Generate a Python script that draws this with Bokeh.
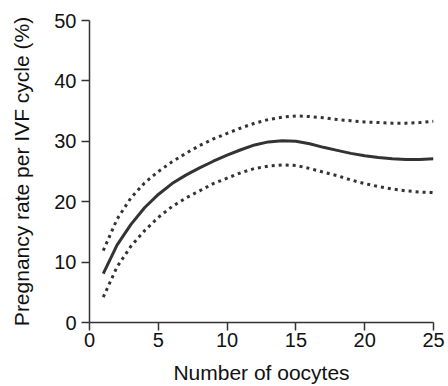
from bokeh.plotting import figure
from bokeh.models import Range1d, FixedTicker
from bokeh.embed import file_html
from bokeh.resources import INLINE

# Data
oocytes = [1, 2, 3, 4, 5, 6, 7, 8, 9, 10, 11, 12, 13, 14, 15, 16, 17, 18, 19, 20, 21, 22, 23, 24, 25]
rate_mean = [8.1, 12.8, 16.2, 19.0, 21.2, 23.0, 24.4, 25.6, 26.7, 27.7, 28.6, 29.4, 29.9, 30.1,
             30.0, 29.6, 29.0, 28.5, 28.0, 27.6, 27.3, 27.1, 27.0, 27.0, 27.1]
rate_upper = [11.9, 17.1, 20.6, 23.1, 25.0, 26.6, 28.0, 29.3, 30.4, 31.3, 32.2, 33.0, 33.6, 34.0,
              34.2, 34.1, 33.9, 33.6, 33.4, 33.2, 33.1, 33.0, 33.0, 33.1, 33.3]
rate_lower = [4.2, 9.2, 12.6, 15.2, 17.4, 19.2, 20.6, 21.8, 23.0, 23.9, 24.8, 25.5, 25.9, 26.1,
              26.0, 25.5, 24.9, 24.3, 23.6, 23.0, 22.5, 22.1, 21.8, 21.6, 21.5]
x_ticks = [0, 5, 10, 15, 20, 25]
y_ticks = [0, 10, 20, 30, 40, 50]

p = figure(width=448, height=386, output_backend="svg", toolbar_location=None,
           x_range=Range1d(0, 25), y_range=Range1d(0, 50),
           min_border_left=89, min_border_right=15, min_border_top=20, min_border_bottom=60)
p.outline_line_color = None
p.xgrid.visible = False
p.ygrid.visible = False
p.background_fill_color = "white"

ink = "#333333"
p.line(oocytes, rate_upper, line_color=ink, line_width=3, line_dash="3 4")
p.line(oocytes, rate_lower, line_color=ink, line_width=3, line_dash="3 4")
p.line(oocytes, rate_mean, line_color=ink, line_width=3)

p.xaxis.ticker = FixedTicker(ticks=x_ticks)
p.yaxis.ticker = FixedTicker(ticks=y_ticks)
p.xaxis.axis_label = "Number of oocytes"
p.yaxis.axis_label = "Pregnancy rate per IVF cycle (%)"

for ax in (p.xaxis, p.yaxis):
    ax.axis_line_color = ink
    ax.axis_line_width = 1.5
    ax.major_tick_line_color = ink
    ax.major_tick_line_width = 1.5
    ax.major_tick_out = 8
    ax.major_tick_in = 0
    ax.minor_tick_line_color = None
    ax.major_label_text_font = "Liberation Sans"
    ax.major_label_text_font_size = "20px"
    ax.major_label_text_color = "#111111"
    ax.axis_label_text_font = "Liberation Sans"
    ax.axis_label_text_font_size = "21px"
    ax.axis_label_text_font_style = "normal"
    ax.axis_label_text_color = "#111111"

p.xaxis.major_label_standoff = 2
p.yaxis.major_label_standoff = 5
p.xaxis.axis_label_standoff = 11
p.yaxis.axis_label_standoff = 18

open("out.html", "w").write(file_html(p, INLINE))
